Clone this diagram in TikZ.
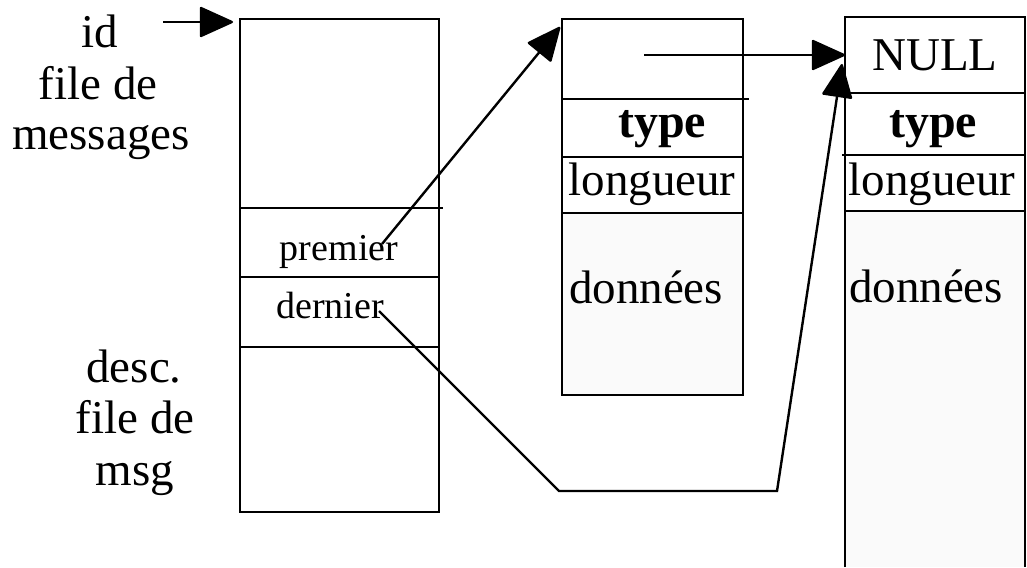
\documentclass[tikz,border=0pt]{standalone}
\usepackage{fontspec}
\setmainfont{Liberation Serif}
\usetikzlibrary{arrows.meta}
\definecolor{datafill}{HTML}{FAFAFA}
\tikzset{
  cell/.style={draw=black, line width=2.4pt, anchor=north west, inner sep=0pt, outer sep=0pt},
  sepline/.style={draw=black, line width=2.4pt},
  lbl/.style={anchor=base, inner sep=0pt, font=\fontsize{47}{51}\selectfont},
  lblb/.style={anchor=base, inner sep=0pt, font=\fontsize{48}{51}\selectfont\bfseries},
  smalllbl/.style={anchor=base, inner sep=0pt, font=\fontsize{38}{42}\selectfont},
  conn/.style={line width=2.4pt, -{Triangle[length=35pt,width=31pt,round]}},
}
\begin{document}
\begin{tikzpicture}[x=1pt,y=-1pt]
\useasboundingbox (0,0) rectangle (1027,567);

% ---------- left box (descripteur) ----------
\node[cell, minimum width=199pt, minimum height=189pt] (ltop) at (240,19) {};
\node[cell, minimum width=199pt, minimum height=69pt]  (lprem) at (240,208) {};
\node[cell, minimum width=199pt, minimum height=70pt]  (lder) at (240,277) {};
\node[cell, minimum width=199pt, minimum height=165pt] (lbot) at (240,347) {};
\draw[sepline] (lprem.north east) -- ++(4,0);

% ---------- middle message ----------
\node[cell, fill=datafill, minimum width=181pt, minimum height=182pt] (mdata) at (562,213) {};
\node[cell, minimum width=181pt, minimum height=56pt]  (mlen) at (562,157) {};
\node[cell, minimum width=181pt, minimum height=58pt]  (mtype) at (562,99) {};
\node[cell, minimum width=181pt, minimum height=80pt]  (mptr) at (562,19) {};
\draw[sepline] (mptr.south east) -- ++(6,0);

% ---------- right message ----------
\node[anchor=north west, inner sep=0pt, outer sep=0pt, fill=datafill,
      minimum width=180pt, minimum height=356pt] (rdata) at (845,211) {};
\draw[sepline] (rdata.south west) -- (rdata.north west);
\draw[sepline] (rdata.north east) -- (rdata.south east);
\node[cell, minimum width=180pt, minimum height=56pt] (rlen) at (845,155) {};
\node[cell, minimum width=180pt, minimum height=62pt] (rtype) at (845,93) {};
\node[cell, minimum width=180pt, minimum height=76pt] (rnull) at (845,17) {};
\draw[sepline] (rlen.north west) -- ++(-3,0);

% ---------- texts ----------
\node[lbl] (tid)   at (100,48)  {id};
\node[lbl] (tfile) at (98,100)  {file de};
\node[lbl] (tmsgs) at (101,149) {messages};

\node[lbl] (tdesc)  at (134,382) {desc.};
\node[lbl] (tfile2) at (135,433) {file de};
\node[lbl] (tmsg)   at (135,485) {msg};

\node[smalllbl] (tprem) at (339,260) {premier};
\node[smalllbl] (tder)  at (330,318) {dernier};

\node[lblb] (mtypet) at (662,138) {type};
\node[lbl]  (mlent)  at (652,195) {longueur};
\node[lbl]  (mdont)  at (646,303) {données};

\node[lbl]  (rnullt) at (935,71)  {NULL};
\node[lblb] (rtypet) at (933,138) {type};
\node[lbl]  (rlent)  at (932,195) {longueur};
\node[lbl]  (rdont)  at (926,302) {données};

% ---------- connectors ----------
\coordinate (idtail) at (163,22);
\coordinate (idtip)  at (233,22);
\draw[conn] (idtail) -- (idtip);

\coordinate (premsrc) at (382,244);
\coordinate (premtip) at (560,27);
\draw[conn] (premsrc) -- (premtip);

\coordinate (ptrsrc) at (644,55);
\draw[conn] (ptrsrc) -- (rnull.west);

\coordinate (dersrc) at (379,311);
\coordinate (derA) at (559,491);
\coordinate (derB) at (777,491);
\coordinate (dertip) at (842,64);
\draw[conn] (dersrc) -- (derA) -- (derB) -- (dertip);
\end{tikzpicture}
\end{document}
